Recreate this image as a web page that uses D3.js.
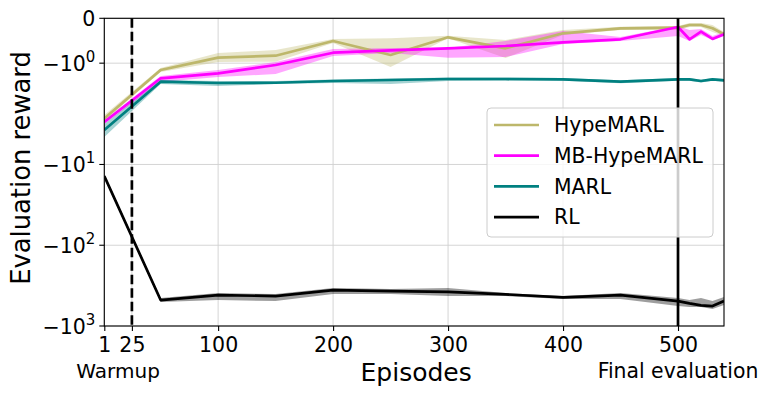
<!DOCTYPE html>
<html>
<head>
<meta charset="utf-8">
<script src="https://cdn.jsdelivr.net/npm/d3@7"></script>
<style>
  html, body { margin: 0; padding: 0; background: #fff; }
  svg { display: block; font-family: "DejaVu Sans", sans-serif; }
</style>
</head>
<body>
<svg id="chart" width="770" height="395"></svg>
<script>
// ---------------- data ----------------
const episodes = [1, 50, 100, 150, 200, 250, 300, 350, 400, 450, 500, 510, 520, 530, 540];

const hypeMean = [-2.7, -1.152, -0.878, -0.834, -0.506, -0.818, -0.424, -0.669, -0.334, -0.223, -0.21, -0.149, -0.149, -0.223, -0.357];
const hypeLow  = [-2.9, -1.197, -0.974, -0.967, -0.551, -1.086, -0.446, -0.885, -0.372, -0.261, -0.261, -0.194, -0.194, -0.305, -0.395];
const hypeHigh = [-2.44, -1.108, -0.773, -0.707, -0.461, -0.446, -0.388, -0.484, -0.261, -0.187, -0.172, -0.105, -0.105, -0.149, -0.305];

const mbMean = [-2.98, -1.337, -1.226, -1.041, -0.767, -0.713, -0.669, -0.617, -0.535, -0.468, -0.194, -0.468, -0.299, -0.461, -0.357];
const mbLow  = [-3.16, -1.42, -1.308, -1.242, -0.84, -0.773, -0.878, -0.863, -0.573, -0.506, -0.395, -0.506, -0.372, -0.484, -0.395];
const mbHigh = [-2.81, -1.286, -1.152, -0.974, -0.684, -0.662, -0.655, -0.506, -0.283, -0.417, -0.172, -0.261, -0.238, -0.395, -0.305];

const marlMean = [-3.75, -1.413, -1.442, -1.436, -1.398, -1.375, -1.353, -1.353, -1.36, -1.413, -1.36, -1.36, -1.398, -1.36, -1.382];
const marlLow  = [-4.57, -1.464, -1.509, -1.464, -1.442, -1.464, -1.398, -1.39, -1.39, -1.45, -1.39, -1.39, -1.43, -1.39, -1.41];
const marlHigh = [-3.16, -1.375, -1.398, -1.398, -1.364, -1.342, -1.32, -1.32, -1.33, -1.38, -1.33, -1.33, -1.37, -1.33, -1.35];

const rlMean = [-13.9, -477, -414, -426, -359, -369, -377, -406, -442, -414, -491, -524, -555, -566, -491];
const rlLow  = [-14.7, -505, -477, -491, -402, -402, -426, -426, -463, -463, -566, -582, -582, -617, -550];
const rlHigh = [-13.1, -451, -391, -402, -339, -349, -339, -391, -426, -391, -451, -477, -451, -491, -438];

const seriesNames = ["HypeMARL", "MB-HypeMARL", "MARL", "RL"];
const seriesColors = ["#bdb76b", "#ff00ff", "#008080", "#000000"];

const xTickValues = [1, 25, 100, 200, 300, 400, 500];
const yTickValues = [0, -1, -10, -100, -1000];
const yTickExponents = [null, "0", "1", "2", "3"];
const warmupEpisode = 25;
const finalEvalEpisode = 500;

// ---------------- layout ----------------
const pL = 104.3, pR = 724, pT = 18.3, pB = 326;
const svg = d3.select("#chart");

// matplotlib-style symlog transform (linthresh = 2, linscale = 1, base 10)
const linthresh = 2, linscaleAdj = 1 / (1 - 1 / 10);
function symT(v) {
  const a = Math.abs(v);
  if (a <= linthresh) return v * linscaleAdj;
  return Math.sign(v) * linthresh * (linscaleAdj + Math.log10(a / linthresh));
}
const yLin = d3.scaleLinear().domain([symT(-1000), symT(0)]).range([pB, pT]);
const y = v => yLin(symT(v));
const x = d3.scaleLinear().domain([1, 540]).range([pL, pR]);

// grid
const grid = svg.append("g");
grid.selectAll("line.gx").data(xTickValues).join("line")
  .attr("x1", d => x(d)).attr("x2", d => x(d)).attr("y1", pT).attr("y2", pB)
  .attr("stroke", "#d0d0d0").attr("stroke-width", 0.9);
grid.selectAll("line.gy").data(yTickValues).join("line")
  .attr("x1", pL).attr("x2", pR).attr("y1", d => y(d)).attr("y2", d => y(d))
  .attr("stroke", "#d0d0d0").attr("stroke-width", 0.9);

const series = [
  { mean: hypeMean, low: hypeLow, high: hypeHigh },
  { mean: mbMean, low: mbLow, high: mbHigh },
  { mean: marlMean, low: marlLow, high: marlHigh },
  { mean: rlMean, low: rlLow, high: rlHigh }
];

svg.append("clipPath").attr("id", "plotclip").append("rect")
  .attr("x", pL).attr("y", pT).attr("width", pR - pL).attr("height", pB - pT);

const plot = svg.append("g").attr("clip-path", "url(#plotclip)");
const area = d3.area().x((d, i) => x(episodes[i])).y0(d => y(d[0])).y1(d => y(d[1]));
const line = d3.line().x((d, i) => x(episodes[i])).y(d => y(d));

series.forEach((s, k) => {
  const bandData = s.low.map((lo, i) => [lo, s.high[i]]);
  plot.append("path").datum(bandData).attr("d", area)
    .attr("fill", seriesColors[k]).attr("fill-opacity", k === 3 ? 0.38 : 0.35).attr("stroke", "none");
});
series.forEach((s, k) => {
  plot.append("path").datum(s.mean).attr("d", line)
    .attr("fill", "none").attr("stroke", seriesColors[k]).attr("stroke-width", 2.7)
    .attr("stroke-linejoin", "round");
});

// vertical markers
svg.append("line").attr("x1", x(warmupEpisode)).attr("x2", x(warmupEpisode))
  .attr("y1", pT).attr("y2", pB).attr("stroke", "#000").attr("stroke-width", 2.7)
  .attr("stroke-dasharray", "9.5,4");
svg.append("line").attr("x1", x(finalEvalEpisode)).attr("x2", x(finalEvalEpisode))
  .attr("y1", pT).attr("y2", pB).attr("stroke", "#000").attr("stroke-width", 2.7);

// frame
svg.append("rect").attr("x", pL).attr("y", pT).attr("width", pR - pL).attr("height", pB - pT)
  .attr("fill", "none").attr("stroke", "#000").attr("stroke-width", 1.1);

// x axis
const xAxis = d3.axisBottom(x).tickValues(xTickValues).tickSize(5).tickPadding(4).tickFormat(d3.format("d"));
const gx = svg.append("g").attr("transform", `translate(0,${pB})`).call(xAxis);
gx.select(".domain").remove();
gx.selectAll(".tick line").attr("stroke", "#000").attr("stroke-width", 1.1);
gx.selectAll(".tick text").attr("font-size", 20.5).attr("font-family", "DejaVu Sans").attr("fill", "#000")
  .attr("dy", null).attr("y", 26);

// y axis
const gy = svg.append("g");
gy.selectAll("line").data(yTickValues).join("line")
  .attr("x1", pL - 5).attr("x2", pL).attr("y1", d => y(d)).attr("y2", d => y(d))
  .attr("stroke", "#000").attr("stroke-width", 1.1);
const yt = gy.selectAll("text").data(yTickValues).join("text")
  .attr("x", pL - 9).attr("y", d => y(d) + 8)
  .attr("text-anchor", "end").attr("font-size", 20.5).attr("fill", "#000");
yt.each(function(d, i) {
  const t = d3.select(this);
  if (yTickExponents[i] === null) { t.text("0"); return; }
  t.append("tspan").text("\u221210");
  t.append("tspan").attr("font-size", 15).attr("dy", -9).text(yTickExponents[i]);
});

// labels
svg.append("text").attr("x", (pL + pR) / 2 + 2).attr("y", 381).attr("text-anchor", "middle")
  .attr("font-size", 25).text("Episodes");
svg.append("text").attr("transform", "translate(30,168) rotate(-90)").attr("text-anchor", "middle")
  .attr("font-size", 25.8).text("Evaluation reward");
svg.append("text").attr("x", x(13)).attr("y", 378).attr("text-anchor", "middle")
  .attr("font-size", 20).text("Warmup");
svg.append("text").attr("x", x(finalEvalEpisode)).attr("y", 378).attr("text-anchor", "middle")
  .attr("font-size", 20.4).text("Final evaluation");

// legend
const lg = svg.append("g");
lg.append("rect").attr("x", 487).attr("y", 108).attr("width", 226).attr("height", 129).attr("rx", 4)
  .attr("fill", "#fff").attr("fill-opacity", 0.8).attr("stroke", "#cccccc").attr("stroke-width", 1);
seriesNames.forEach((name, i) => {
  const cy = 125 + i * 30.7;
  lg.append("line").attr("x1", 494).attr("x2", 539).attr("y1", cy).attr("y2", cy)
    .attr("stroke", seriesColors[i]).attr("stroke-width", 2.7);
  lg.append("text").attr("x", 554).attr("y", cy + 7.2).attr("font-size", 20.4).text(name);
});
</script>
</body>
</html>
